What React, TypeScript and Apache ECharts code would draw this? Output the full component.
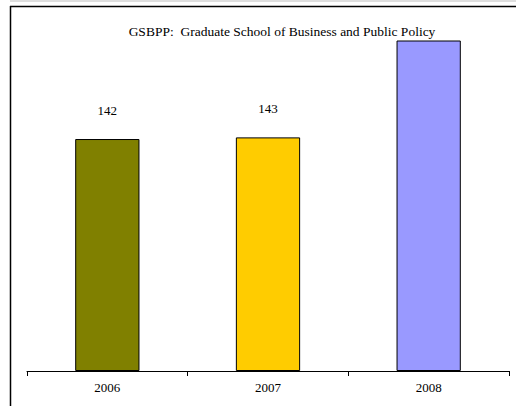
import React, { useEffect, useRef } from "react";
import * as echarts from "echarts";

const categories = ["2006", "2007", "2008"];
const values = [142, 143, 215];
const showLabels = [true, true, false];
const barColors = ["#808000", "#FFCC00", "#9999FF"];
const titleText = "GSBPP:  Graduate School of Business and Public Policy";

export default function App() {
  const ref = useRef<HTMLDivElement>(null);
  useEffect(() => {
    if (!ref.current) return;
    const chart = echarts.init(ref.current, undefined, { renderer: "svg" });
    const font = "Liberation Serif, Times New Roman, serif";
    chart.setOption({
      animation: false,
      backgroundColor: "#ffffff",
      textStyle: { fontFamily: font },
      grid: { left: 27, right: 7, top: 41, bottom: 35 },
      xAxis: {
        type: "category",
        data: categories,
        axisLine: { show: true, lineStyle: { color: "#000", width: 1 } },
        axisTick: { show: true, length: 5, lineStyle: { color: "#000" } },
        axisLabel: { color: "#000", fontFamily: font, fontSize: 13, margin: 10 },
      },
      yAxis: {
        type: "value",
        min: 0,
        max: 202,
        show: false,
        splitLine: { show: false },
      },
      graphic: [
        { type: "line", shape: { x1: 10, y1: 1, x2: 516, y2: 1 }, style: { stroke: "#dedede", lineWidth: 2 } },
        { type: "line", shape: { x1: 10, y1: 6.5, x2: 516, y2: 6.5 }, style: { stroke: "#000", lineWidth: 1.5 } },
        { type: "line", shape: { x1: 10.5, y1: 6, x2: 10.5, y2: 406 }, style: { stroke: "#000", lineWidth: 1.5 } },
        {
          type: "text",
          x: 282,
          y: 31,
          style: {
            text: titleText,
            fill: "#000",
            fontFamily: font,
            fontSize: 13.5,
            textAlign: "center",
            textVerticalAlign: "middle",
          },
        },
      ],
      series: [
        {
          type: "bar",
          barWidth: "40%",
          clip: true,
          data: values.map((v, i) => ({
            value: v,
            itemStyle: { color: barColors[i], borderColor: "#000", borderWidth: 1 },
            label: {
              show: showLabels[i],
              position: "top",
              distance: 22,
              color: "#000",
              fontFamily: font,
              fontSize: 13,
            },
          })),
        },
      ],
    });
    return () => chart.dispose();
  }, []);
  return (
    <div
      ref={ref}
      style={{ position: "absolute", left: 0, top: 0, width: 516, height: 406 }}
    />
  );
}
